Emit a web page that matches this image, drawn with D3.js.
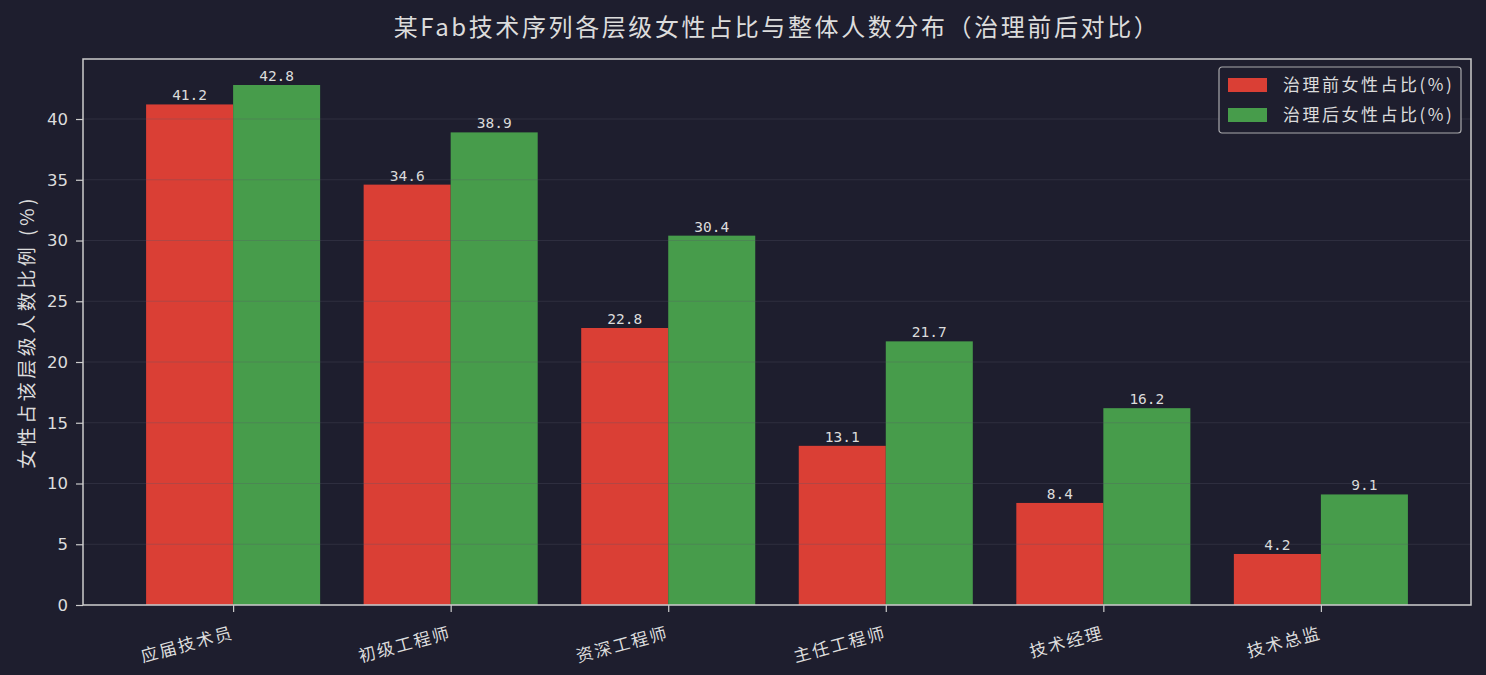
<!DOCTYPE html>
<html>
<head>
<meta charset="utf-8">
<script src="https://cdn.jsdelivr.net/npm/d3@7"></script>
<style>
  html, body { margin: 0; padding: 0; background: #1e1e2e; }
  svg { display: block; }
</style>
</head>
<body>
<div id="chart"></div>
<script>
// data
const levels = ["应届技术员", "初级工程师", "资深工程师", "主任工程师", "技术经理", "技术总监"];
const before = [41.2, 34.6, 22.8, 13.1, 8.4, 4.2];
const after = [42.8, 38.9, 30.4, 21.7, 16.2, 9.1];
const yTicks = [0, 5, 10, 15, 20, 25, 30, 35, 40];
const seriesNames = ["治理前女性占比(%)", "治理后女性占比(%)"];
const seriesColors = ["#da3f35", "#479c4b"];

const width = 1486, height = 675;
const margin = { top: 59, right: 15, bottom: 70, left: 83 };
const cjk = "'Noto Sans CJK SC', 'Noto Sans', sans-serif";
const txt = "#dcdcdc";

const svg = d3.select("#chart").append("svg")
  .attr("width", width)
  .attr("height", height);

svg.append("rect").attr("width", width).attr("height", height).attr("fill", "#1e1e2e");

const barW = 0.4;
// matplotlib-like margins: 5% of data span
const span = (levels.length - 1 + 2 * barW);
const x = d3.scaleLinear()
  .domain([-barW - span * 0.05, levels.length - 1 + barW + span * 0.05])
  .range([margin.left, width - margin.right]);

const yMax = d3.max(after) * 1.05;
const y = d3.scaleLinear()
  .domain([0, yMax])
  .range([height - margin.bottom, margin.top]);

// bars
const groups = [before, after];
groups.forEach((vals, s) => {
  svg.append("g").selectAll("rect")
    .data(vals)
    .enter().append("rect")
    .attr("x", (d, i) => x(i + (s === 0 ? -barW : 0)))
    .attr("width", x(barW) - x(0))
    .attr("y", d => y(d))
    .attr("height", d => y(0) - y(d))
    .attr("fill", seriesColors[s]);

  // value labels
  svg.append("g").selectAll("text")
    .data(vals)
    .enter().append("text")
    .attr("x", (d, i) => x(i + (s === 0 ? -barW / 2 : barW / 2)))
    .attr("y", d => y(d) - 4)
    .attr("text-anchor", "middle")
    .attr("fill", txt)
    .style("font-family", "'DejaVu Sans Mono', monospace")
    .style("font-size", "14.5px")
    .text(d => d.toFixed(1));
});

// horizontal grid, drawn over the bars like the reference
svg.append("g").selectAll("line")
  .data(yTicks)
  .enter().append("line")
  .attr("x1", margin.left)
  .attr("x2", width - margin.right)
  .attr("y1", d => y(d))
  .attr("y2", d => y(d))
  .attr("stroke", "#555566")
  .attr("stroke-opacity", 0.3)
  .attr("stroke-width", 1.2);

// spines
svg.append("rect")
  .attr("x", margin.left)
  .attr("y", margin.top)
  .attr("width", width - margin.right - margin.left)
  .attr("height", height - margin.bottom - margin.top)
  .attr("fill", "none")
  .attr("stroke", "#cccccc")
  .attr("stroke-width", 1.5);

// y axis
const yAxis = svg.append("g")
  .attr("transform", `translate(${margin.left},0)`)
  .call(d3.axisLeft(y).tickValues(yTicks).tickSize(7).tickPadding(8));
yAxis.select(".domain").remove();
yAxis.selectAll("line").attr("stroke", "#cccccc").attr("stroke-width", 1.2);
yAxis.selectAll("text")
  .attr("fill", txt)
  .style("font-family", "'DejaVu Sans', sans-serif")
  .style("font-size", "16.5px");

// x axis, labels tilted 15 degrees and right-aligned on the tick
const xAxis = svg.append("g")
  .attr("transform", `translate(0,${height - margin.bottom})`)
  .call(d3.axisBottom(x).tickValues(d3.range(levels.length)).tickFormat(i => levels[i]).tickSize(7));
xAxis.select(".domain").remove();
xAxis.selectAll("line").attr("stroke", "#cccccc").attr("stroke-width", 1.2);
xAxis.selectAll("text")
  .attr("fill", txt)
  .attr("y", 0)
  .attr("dy", 0)
  .style("font-family", cjk)
  .style("font-size", "17px")
  .style("letter-spacing", "2px")
  .attr("text-anchor", "end")
  .attr("transform", "translate(1,33) rotate(-15)");

// y label
svg.append("text")
  .attr("transform", `translate(34,${(margin.top + height - margin.bottom) / 2}) rotate(-90)`)
  .attr("text-anchor", "middle")
  .attr("fill", txt)
  .style("font-family", cjk)
  .style("font-size", "19px")
  .style("letter-spacing", "3.5px")
  .text("女性占该层级人数比例 (%)");

// title
svg.append("text")
  .attr("x", (margin.left + width - margin.right) / 2)
  .attr("y", 36)
  .attr("text-anchor", "middle")
  .attr("fill", txt)
  .style("font-family", cjk)
  .style("font-size", "24px")
  .style("letter-spacing", "2.6px")
  .text("某Fab技术序列各层级女性占比与整体人数分布（治理前后对比）");

// legend
const legend = svg.append("g").attr("transform", "translate(1219,67)");
legend.append("rect")
  .attr("width", 242).attr("height", 66).attr("rx", 3)
  .attr("fill", "#1e1e2e")
  .attr("stroke", "#cccccc")
  .attr("stroke-opacity", 0.8)
  .attr("stroke-width", 1.2);
seriesNames.forEach((name, i) => {
  legend.append("rect")
    .attr("x", 9).attr("y", 11 + i * 30)
    .attr("width", 39).attr("height", 14)
    .attr("fill", seriesColors[i]);
  legend.append("text")
    .attr("x", 64).attr("y", 24 + i * 30)
    .attr("fill", txt)
    .style("font-family", cjk)
    .style("font-size", "17px")
    .style("letter-spacing", "2.5px")
    .text(name);
});
</script>
</body>
</html>
